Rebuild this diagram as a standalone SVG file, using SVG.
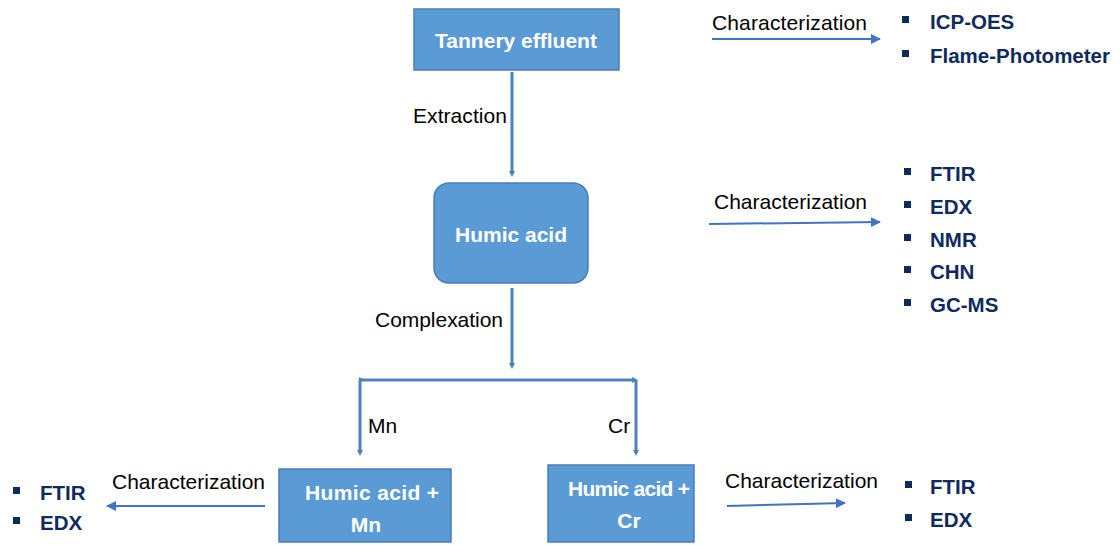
<svg xmlns="http://www.w3.org/2000/svg" width="1120" height="545" viewBox="0 0 1120 545">
<style>
.box{fill:#5B9BD5;stroke:#4A7DB5;stroke-width:1.5}
.bt{font-family:"Liberation Sans",Arial,sans-serif;font-weight:bold;font-size:21px;fill:#ffffff;text-anchor:middle}
.lbl{font-family:"Liberation Sans",Arial,sans-serif;font-size:21px;fill:#000000}
.li{font-family:"Liberation Sans",Arial,sans-serif;font-weight:bold;font-size:20.5px;fill:#0F2A5C}
.bul{fill:#0F2A5C}
.flow{stroke:#4F81BD;stroke-width:3;fill:none}
.thin{stroke:#4472C4;stroke-width:2;fill:none}
</style>
<defs>
<marker id="ah" markerWidth="6" markerHeight="6" refX="3" refY="3" orient="auto" markerUnits="userSpaceOnUse"><path d="M0,0 L6,3 L0,6 z" fill="#4F81BD"/></marker>
<marker id="ah2" markerWidth="10" markerHeight="10" refX="9" refY="5" orient="auto" markerUnits="userSpaceOnUse"><path d="M0,0 L10,5 L0,10 z" fill="#4472C4"/></marker>
</defs>
<g id="connectors">
<line class="flow" x1="512" y1="72" x2="512" y2="174" marker-end="url(#ah)"/>
<line class="flow" x1="512" y1="288" x2="512" y2="366" marker-end="url(#ah)"/>
<line class="flow" x1="362" y1="380" x2="635" y2="380" marker-start="url(#ah)" marker-end="url(#ah)"/>
<line class="flow" x1="360" y1="380" x2="360" y2="453" marker-end="url(#ah)"/>
<line class="flow" x1="636" y1="380" x2="636" y2="453" marker-end="url(#ah)"/>
<line class="thin" x1="712" y1="39" x2="880" y2="39" marker-end="url(#ah2)"/>
<line class="thin" x1="709" y1="224" x2="880" y2="222" marker-end="url(#ah2)"/>
<line class="thin" x1="265" y1="506" x2="107" y2="506" marker-end="url(#ah2)"/>
<line class="thin" x1="727" y1="506" x2="845" y2="503" marker-end="url(#ah2)"/>
<text class="lbl" x="413" y="123" textLength="94">Extraction</text>
<text class="lbl" x="375" y="327" textLength="128">Complexation</text>
<text class="lbl" x="368" y="433">Mn</text>
<text class="lbl" x="608" y="433">Cr</text>
<text class="lbl" x="712" y="30" textLength="155">Characterization</text>
<text class="lbl" x="714" y="209" textLength="153">Characterization</text>
<text class="lbl" x="112" y="489" textLength="153">Characterization</text>
<text class="lbl" x="725" y="488" textLength="153">Characterization</text>
</g>
<g id="tannery">
<rect class="box" x="414" y="9" width="205" height="61"/>
<text class="bt" x="516" y="48">Tannery effluent</text>
</g>
<g id="humic">
<rect class="box" x="434" y="183" width="154" height="100" rx="15"/>
<text class="bt" x="511" y="242">Humic acid</text>
</g>
<g id="humic-mn">
<rect class="box" x="279" y="469" width="172" height="73"/>
<text class="bt" x="372" y="500" textLength="134">Humic acid +</text>
<text class="bt" x="366" y="532">Mn</text>
</g>
<g id="humic-cr">
<rect class="box" x="548" y="465" width="146" height="77"/>
<text class="bt" x="629" y="496" textLength="122">Humic acid +</text>
<text class="bt" x="629" y="528">Cr</text>
</g>
<g id="list-top">
<rect class="bul" x="902" y="16" width="7" height="7"/>
<text class="li" x="930" y="29">ICP-OES</text>
<rect class="bul" x="902" y="50" width="7" height="7"/>
<text class="li" x="930" y="63">Flame-Photometer</text>
</g>
<g id="list-humic">
<rect class="bul" x="904" y="168" width="7" height="7"/>
<text class="li" x="930" y="181">FTIR</text>
<rect class="bul" x="904" y="201" width="7" height="7"/>
<text class="li" x="930" y="214">EDX</text>
<rect class="bul" x="904" y="234" width="7" height="7"/>
<text class="li" x="930" y="247">NMR</text>
<rect class="bul" x="904" y="266" width="7" height="7"/>
<text class="li" x="930" y="279">CHN</text>
<rect class="bul" x="904" y="299" width="7" height="7"/>
<text class="li" x="930" y="312">GC-MS</text>
</g>
<g id="list-mn">
<rect class="bul" x="13" y="487" width="7" height="7"/>
<text class="li" x="40" y="500">FTIR</text>
<rect class="bul" x="13" y="517" width="7" height="7"/>
<text class="li" x="40" y="530">EDX</text>
</g>
<g id="list-cr">
<rect class="bul" x="905" y="481" width="7" height="7"/>
<text class="li" x="930" y="494">FTIR</text>
<rect class="bul" x="905" y="514" width="7" height="7"/>
<text class="li" x="930" y="527">EDX</text>
</g>
</svg>
